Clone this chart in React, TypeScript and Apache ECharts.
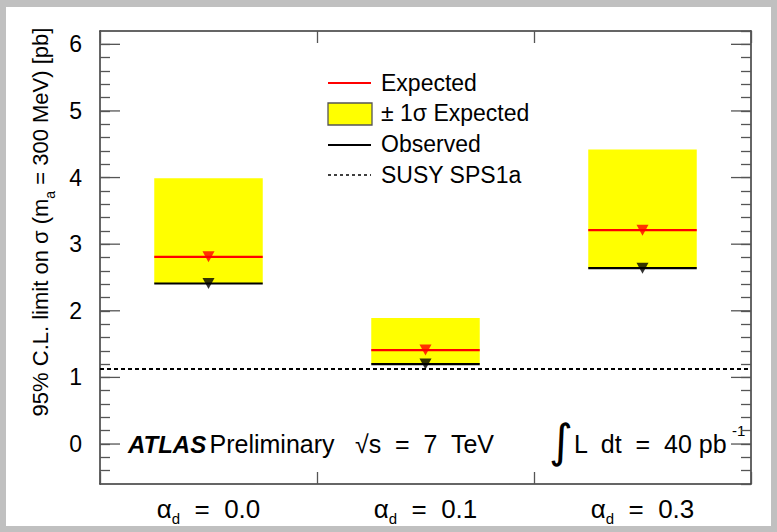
import React, { useEffect, useRef } from "react";
import * as echarts from "echarts";

// ---- data ----
const categories = ["0.0", "0.1", "0.3"];
const expectedLimit = [2.81, 1.41, 3.21];
const observedLimit = [2.41, 1.2, 2.64];
const bandLow = [2.41, 1.2, 2.64];
const bandHigh = [3.99, 1.89, 4.42];
const susySps1a = 1.13;
const majorTicks = [0, 1, 2, 3, 4, 5, 6];
const yMin = -0.6;
const yMax = 6.2;

const FONT = "Liberation Sans";

export default function App() {
  const ref = useRef<HTMLDivElement>(null);

  useEffect(() => {
    if (!ref.current) return;
    const chart = echarts.init(ref.current, null, { renderer: "svg" });

    const axisLineStyle = { color: "#333", width: 1.5 };
    const tickStyle = { color: "#555", width: 1.3 };

    const yAxisBase = {
      type: "value",
      min: yMin,
      max: yMax,
      interval: 0.2,
      splitLine: { show: false },
      axisLine: { show: true, onZero: false, lineStyle: axisLineStyle },
      axisTick: { show: true, inside: true, length: 10, lineStyle: tickStyle },
    };

    const option: any = {
      animation: false,
      textStyle: { fontFamily: FONT },
      grid: { left: 100, right: 26, top: 31, bottom: 48 },
      xAxis: [
        {
          type: "category",
          data: categories,
          boundaryGap: true,
          position: "bottom",
          axisLine: { show: true, onZero: false, lineStyle: axisLineStyle },
          axisTick: { show: true, inside: true, length: 12, lineStyle: tickStyle },
          axisLabel: {
            margin: 8,
            color: "#000",
            fontFamily: FONT,
            formatter: (v: string) => `{a|α}{s|d}{a|  =  ${v}}`,
            rich: {
              a: { fontSize: 26, fontFamily: FONT, color: "#000", lineHeight: 34, verticalAlign: "middle" },
              s: { fontSize: 15, fontFamily: FONT, color: "#000", lineHeight: 34, verticalAlign: "bottom" },
            },
          },
        },
        {
          type: "category",
          data: categories,
          boundaryGap: true,
          position: "top",
          axisLine: { show: true, onZero: false, lineStyle: axisLineStyle },
          axisTick: { show: true, inside: true, length: 12, lineStyle: tickStyle },
          axisLabel: { show: false },
        },
      ],
      yAxis: [
        {
          ...yAxisBase,
          position: "left",
          axisLabel: {
            margin: 18,
            color: "#000",
            fontSize: 23,
            fontFamily: FONT,
            showMinLabel: false,
            showMaxLabel: false,
            formatter: (v: number) =>
              Math.abs(v - Math.round(v)) < 1e-6 ? String(Math.round(v)) : "",
          },
        },
        {
          ...yAxisBase,
          position: "right",
          axisLabel: { show: false },
        },
      ],
      series: [
        {
          name: "± 1σ Expected",
          type: "custom",
          xAxisIndex: 0,
          yAxisIndex: 0,
          z: 1,
          encode: { x: 0, y: [1, 2] },
          data: categories.map((_, i) => [i, bandLow[i], bandHigh[i]]),
          renderItem: (params: any, api: any) => {
            const i = api.value(0);
            const lo = api.coord([i, api.value(1)]);
            const hi = api.coord([i, api.value(2)]);
            const w = api.size([1, 0])[0] * 0.5;
            return {
              type: "rect",
              shape: { x: lo[0] - w / 2, y: hi[1], width: w, height: lo[1] - hi[1] },
              style: { fill: "#ffff00" },
            };
          },
          markLine: {
            silent: true,
            symbol: ["none", "none"],
            label: { show: false },
            lineStyle: { type: [4, 3], color: "#000", width: 2 },
            data: [{ yAxis: susySps1a }],
          },
        },
        {
          name: "Expected",
          type: "custom",
          z: 3,
          encode: { x: 0, y: 1 },
          data: categories.map((_, i) => [i, expectedLimit[i]]),
          renderItem: (params: any, api: any) => {
            const c = api.coord([api.value(0), api.value(1)]);
            const w = api.size([1, 0])[0] * 0.5;
            return {
              type: "line",
              shape: { x1: c[0] - w / 2, y1: c[1], x2: c[0] + w / 2, y2: c[1] },
              style: { stroke: "#ff0000", lineWidth: 2.2 },
            };
          },
        },
        {
          name: "Observed",
          type: "custom",
          z: 3,
          encode: { x: 0, y: 1 },
          data: categories.map((_, i) => [i, observedLimit[i]]),
          renderItem: (params: any, api: any) => {
            const c = api.coord([api.value(0), api.value(1)]);
            const w = api.size([1, 0])[0] * 0.5;
            return {
              type: "line",
              shape: { x1: c[0] - w / 2, y1: c[1], x2: c[0] + w / 2, y2: c[1] },
              style: { stroke: "#000", lineWidth: 2.2 },
            };
          },
        },
        {
          name: "Expected marker",
          type: "scatter",
          z: 4,
          symbol: "triangle",
          symbolRotate: 180,
          symbolSize: [12, 11],
          itemStyle: { color: "#ff0000" },
          data: categories.map((_, i) => [i, expectedLimit[i]]),
        },
        {
          name: "Observed marker",
          type: "scatter",
          z: 4,
          symbol: "triangle",
          symbolRotate: 180,
          symbolSize: [12, 11],
          itemStyle: { color: "#000" },
          data: categories.map((_, i) => [i, observedLimit[i]]),
        },
        {
          name: "major ticks",
          type: "custom",
          z: 5,
          silent: true,
          encode: { x: 0, y: 1 },
          data: majorTicks.map((v) => [0, v]),
          renderItem: (params: any, api: any) => {
            const cs = params.coordSys;
            const y = api.coord([0, api.value(1)])[1];
            return {
              type: "group",
              children: [
                {
                  type: "line",
                  shape: { x1: cs.x, y1: y, x2: cs.x + 20, y2: y },
                  style: { stroke: "#555", lineWidth: 1.3 },
                },
                {
                  type: "line",
                  shape: { x1: cs.x + cs.width, y1: y, x2: cs.x + cs.width - 20, y2: y },
                  style: { stroke: "#555", lineWidth: 1.3 },
                },
              ],
            };
          },
        },
      ],
      graphic: [
        // y-axis title
        {
          type: "text",
          x: 40,
          y: 222,
          rotation: Math.PI / 2,
          style: {
            text: "{t|95% C.L. limit on σ (m}{s|a}{t| = 300 MeV) [pb]}",
            align: "center",
            verticalAlign: "middle",
            rich: {
              t: { fontSize: 22, fontFamily: FONT, fill: "#000", lineHeight: 34, verticalAlign: "middle" },
              s: { fontSize: 14, fontFamily: FONT, fill: "#000", lineHeight: 34, verticalAlign: "bottom" },
            },
          },
        },
        // legend
        { type: "line", shape: { x1: 328, y1: 83, x2: 371, y2: 83 }, style: { stroke: "#ff0000", lineWidth: 2 } },
        { type: "text", x: 381, y: 83, style: { text: "Expected", fontSize: 23, fontFamily: FONT, fill: "#000", verticalAlign: "middle" } },
        { type: "rect", shape: { x: 328, y: 103, width: 44, height: 22 }, style: { fill: "#ffff00", stroke: "#555", lineWidth: 1.3 } },
        { type: "text", x: 381, y: 113, style: { text: "± 1σ Expected", fontSize: 23, fontFamily: FONT, fill: "#000", verticalAlign: "middle" } },
        { type: "line", shape: { x1: 328, y1: 145, x2: 371, y2: 145 }, style: { stroke: "#000", lineWidth: 2 } },
        { type: "text", x: 381, y: 144, style: { text: "Observed", fontSize: 23, fontFamily: FONT, fill: "#000", verticalAlign: "middle" } },
        { type: "line", shape: { x1: 328, y1: 175, x2: 371, y2: 175 }, style: { stroke: "#000", lineWidth: 1.5, lineDash: [3, 3] } },
        { type: "text", x: 381, y: 175, style: { text: "SUSY SPS1a", fontSize: 23, fontFamily: FONT, fill: "#000", verticalAlign: "middle" } },
        // labels inside the plot
        {
          type: "text",
          x: 128,
          y: 444,
          style: {
            text: "{b|ATLAS} {r|Preliminary}",
            verticalAlign: "middle",
            rich: {
              b: { fontSize: 24, fontFamily: FONT, fontWeight: "bold", fontStyle: "italic", fill: "#000" },
              r: { fontSize: 25, fontFamily: FONT, fill: "#000" },
            },
          },
        },
        { type: "text", x: 355, y: 444, style: { text: "√s  =  7  TeV", fontSize: 25, fontFamily: FONT, fill: "#000", verticalAlign: "middle" } },
        { type: "text", x: 549, y: 441, style: { text: "∫", fontSize: 46, fontFamily: "DejaVu Sans", fill: "#000", verticalAlign: "middle" } },
        { type: "text", x: 574, y: 444, style: { text: "L  dt  =  40 pb", fontSize: 25, fontFamily: FONT, fill: "#000", verticalAlign: "middle" } },
        { type: "text", x: 732, y: 430, style: { text: "-1", fontSize: 15, fontFamily: FONT, fill: "#000", verticalAlign: "middle" } },
      ],
    };

    chart.setOption(option);
    return () => chart.dispose();
  }, []);

  return (
    <div style={{ position: "fixed", left: 0, top: 0, width: 777, height: 532, background: "#c0c0c0" }}>
      <div style={{ position: "absolute", left: 6, top: 7, width: 765, height: 519, background: "#fff" }} />
      <div ref={ref} style={{ position: "absolute", left: 0, top: 0, width: 777, height: 532 }} />
    </div>
  );
}
